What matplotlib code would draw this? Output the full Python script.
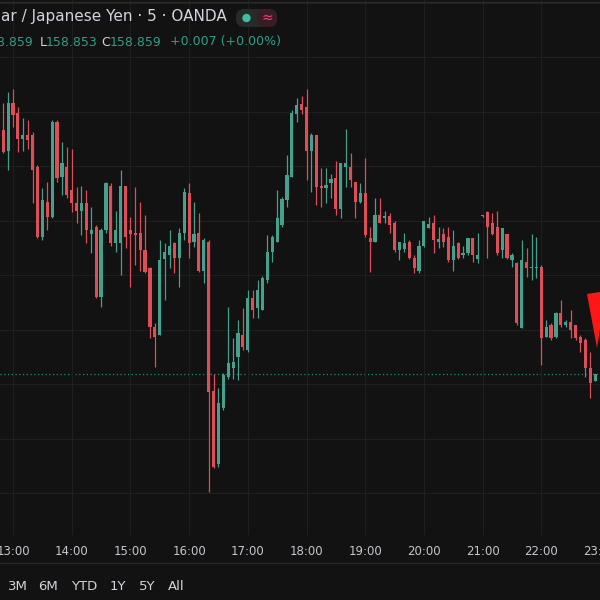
import numpy as np
import pandas as pd
import matplotlib
matplotlib.use('Agg')
import matplotlib.pyplot as plt
from matplotlib.patches import FancyBboxPatch, Polygon, Circle

# USD/JPY 5 min candles from OANDA, 12:50 .. 22:55
opens = [159.083, 159.064, 159.108, 159.099, 159.075, 159.078, 159.078, 159.049, 158.985, 159.017,
         159.003, 159.090, 159.040, 159.049, 159.028, 159.016, 159.009, 159.016, 158.988, 158.994,
         158.930, 158.991, 159.032, 158.979, 158.979, 159.032, 158.991, 158.989, 158.989, 158.973,
         158.956, 158.902, 158.895, 158.965, 158.968, 158.979, 158.966, 158.989, 159.025, 158.980,
         158.989, 158.954, 158.980, 158.844, 158.777, 158.828, 158.856, 158.865, 158.875, 158.895,
         158.881, 158.929, 158.920, 158.918, 158.945, 158.971, 158.980, 158.996, 159.019, 159.040,
         159.098, 159.107, 159.104, 159.064, 159.078, 159.032, 159.030, 159.034, 159.039, 159.011,
         159.049, 159.049, 159.035, 159.017, 159.025, 158.984, 158.980, 159.005, 159.002, 159.004,
         158.998, 158.973, 158.974, 158.980, 158.966, 158.954, 158.977, 158.993, 158.998, 158.980,
         158.988, 158.985, 158.964, 158.979, 158.968, 158.970, 158.984, 158.965, 159.004, 159.008,
         158.998, 158.994, 158.973, 158.988, 158.964, 158.961, 158.901, 158.962, 158.956, 158.956,
         158.957, 158.893, 158.904, 158.893, 158.915, 158.904, 158.907, 158.904, 158.893, 158.890,
         158.865, 158.853]
highs = [159.108, 159.118, 159.121, 159.104, 159.094, 159.092, 159.081, 159.051, 159.030, 159.035,
         159.092, 159.092, 159.072, 159.067, 159.066, 159.031, 159.032, 159.028, 159.012, 158.996,
         158.993, 159.035, 159.034, 159.009, 159.046, 159.032, 159.003, 159.031, 159.017, 159.005,
         158.957, 158.906, 158.982, 158.979, 158.991, 158.980, 158.993, 159.030, 159.034, 159.017,
         159.007, 158.984, 158.982, 158.859, 158.846, 158.860, 158.921, 158.892, 158.909, 158.920,
         158.936, 158.936, 158.945, 158.949, 158.987, 158.987, 159.028, 159.022, 159.060, 159.101,
         159.112, 159.114, 159.121, 159.080, 159.078, 159.048, 159.048, 159.043, 159.055, 159.053,
         159.084, 159.062, 159.035, 159.034, 159.057, 158.994, 159.021, 159.021, 159.009, 159.007,
         159.000, 158.980, 158.989, 158.982, 158.968, 158.982, 159.000, 159.003, 159.005, 158.994,
         158.993, 158.994, 158.991, 158.980, 158.977, 158.984, 158.984, 158.989, 159.005, 159.009,
         159.007, 159.009, 158.993, 158.988, 158.970, 158.962, 158.982, 158.975, 158.988, 158.985,
         158.959, 158.909, 158.906, 158.916, 158.927, 158.909, 158.918, 158.904, 158.895, 158.892,
         158.879, 158.859]
lows = [159.062, 159.046, 159.086, 159.063, 159.064, 159.066, 159.016, 158.984, 158.982, 158.991,
        159.002, 159.035, 159.023, 159.021, 159.008, 158.998, 158.987, 158.979, 158.970, 158.929,
        158.921, 158.989, 158.977, 158.971, 158.950, 158.975, 158.939, 158.959, 158.954, 158.952,
        158.892, 158.866, 158.895, 158.927, 158.956, 158.952, 158.939, 158.982, 158.966, 158.976,
        158.953, 158.943, 158.751, 158.773, 158.774, 158.826, 158.855, 158.855, 158.854, 158.881,
        158.879, 158.911, 158.911, 158.918, 158.943, 158.962, 158.980, 158.994, 159.012, 159.040,
        159.090, 159.098, 159.037, 159.026, 159.014, 159.012, 159.016, 159.021, 159.005, 159.002,
        159.031, 159.031, 159.002, 159.016, 158.985, 158.953, 158.980, 158.998, 158.998, 158.989,
        158.971, 158.964, 158.971, 158.965, 158.952, 158.952, 158.976, 158.993, 158.970, 158.975,
        158.976, 158.962, 158.954, 158.965, 158.966, 158.968, 158.962, 158.961, 159.003, 158.966,
        158.987, 158.968, 158.966, 158.965, 158.957, 158.904, 158.901, 158.948, 158.945, 158.947,
        158.867, 158.893, 158.890, 158.892, 158.902, 158.902, 158.892, 158.890, 158.879, 158.856,
        158.837, 158.853]
closes = [159.063, 159.108, 159.097, 159.075, 159.078, 159.074, 159.046, 158.985, 159.019, 159.003,
          159.090, 159.039, 159.053, 159.023, 159.016, 159.009, 159.016, 158.991, 158.991, 158.930,
          158.991, 159.034, 158.979, 158.991, 159.032, 158.985, 158.988, 158.987, 158.973, 158.953,
          158.902, 158.893, 158.964, 158.971, 158.977, 158.966, 158.989, 159.026, 158.979, 158.988,
          158.954, 158.982, 158.843, 158.774, 158.833, 158.858, 158.869, 158.870, 158.897, 158.884,
          158.929, 158.918, 158.936, 158.947, 158.971, 158.985, 159.002, 159.020, 159.042, 159.099,
          159.106, 159.101, 159.064, 159.078, 159.031, 159.030, 159.033, 159.038, 159.011, 159.053,
          159.053, 159.037, 159.017, 159.025, 158.987, 158.980, 159.005, 158.998, 159.004, 158.996,
          158.973, 158.980, 158.979, 158.966, 158.956, 158.977, 159.000, 158.997, 158.982, 158.983,
          158.980, 158.964, 158.977, 158.966, 158.970, 158.984, 158.968, 158.968, 159.004, 158.994,
          158.988, 158.970, 158.993, 158.966, 158.968, 158.906, 158.964, 158.956, 158.957, 158.957,
          158.892, 158.902, 158.892, 158.915, 158.904, 158.907, 158.900, 158.892, 158.888, 158.865,
          158.851, 158.859]

hour_ticks = [13, 14, 15, 16, 17, 18, 19, 20, 21, 22, 23]
hour_labels = ['13:00', '14:00', '15:00', '16:00', '17:00', '18:00', '19:00', '20:00', '21:00', '22:00', '23:00']
price_grid = [158.75, 158.80, 158.85, 158.90, 158.95, 159.00, 159.05, 159.10, 159.15, 159.20]
range_buttons = ['3M', '6M', 'YTD', '1Y', '5Y', 'All']
last_price = 158.859

BG = '#121212'
UP = '#46a08c'
DOWN = '#dd4f58'
GRID = '#1f1f1f'
TXT = '#d1d4dc'
GREEN_TXT = '#2f9e86'

o = np.array(opens)
h = np.array(highs)
l = np.array(lows)
c = np.array(closes)
times = pd.date_range('2024-06-26 12:50', periods=len(o), freq='5min')
t = times.hour + times.minute / 60.0
cols = np.where(c >= o, UP, DOWN)

fig = plt.figure(figsize=(6, 6), dpi=100, facecolor=BG)
ax = fig.add_axes([0, 65 / 600, 1, 535 / 600])
ax.set_facecolor(BG)

ax.vlines(t, l, h, colors=cols, lw=0.9, zorder=2)
body = np.maximum(np.abs(c - o), 0.0008)
ax.bar(t, body, bottom=np.minimum(o, c), width=0.054, color=cols, lw=0, zorder=3)
ax.axhline(last_price, color='#2a8a78', lw=0.9, ls=(0, (1, 2)), zorder=1)

ax.set_xlim(12.7785, 23.0)
ax.set_ylim(158.7115, 159.2023)
ax.set_xticks(hour_ticks)
ax.set_xticklabels(hour_labels)
ax.set_yticks(price_grid)
ax.tick_params(axis='x', length=0, pad=7, labelsize=8.5, labelcolor='#c4c6cc')
ax.tick_params(axis='y', length=0, labelleft=False)
ax.grid(color=GRID, lw=0.8, zorder=0)
for s in ax.spines.values():
    s.set_visible(False)

# overlay in pixel coordinates for legend / toolbar
ov = fig.add_axes([0, 0, 1, 1])
ov.set_xlim(0, 600)
ov.set_ylim(600, 0)
ov.axis('off')
ov.patch.set_alpha(0)

ov.plot([0, 600], [1.5, 1.5], color='#2a2a2a', lw=1)
ov.plot([0, 600], [563, 563], color='#262626', lw=1)

ov.text(1, 17, 'ar / Japanese Yen \u00b7 5 \u00b7 OANDA', color=TXT, fontsize=11,
        va='center', ha='left')
ov.add_patch(FancyBboxPatch((236, 9), 41, 18, boxstyle='round,pad=0,rounding_size=8',
                            fc='#262b2a', ec='none'))
ov.add_patch(FancyBboxPatch((257, 9), 20, 18, boxstyle='round,pad=0,rounding_size=8',
                            fc='#3a1c25', ec='none'))
ov.add_patch(Circle((246.5, 18), 4.2, fc='#3dbf9f', ec='none'))
ov.text(267, 18, '\u2248', color='#e8457a', fontsize=10, ha='center', va='center')

ov.text(33, 42, '158.859', color=GREEN_TXT, fontsize=9, ha='right', va='center')
ov.text(40, 42, 'L', color=TXT, fontsize=9, ha='left', va='center')
ov.text(46, 42, '158.853', color=GREEN_TXT, fontsize=9, ha='left', va='center')
ov.text(101, 42, 'C', color=TXT, fontsize=9, ha='left', va='center')
ov.text(110, 42, '158.859', color=GREEN_TXT, fontsize=9, ha='left', va='center')
ov.text(170, 42, '+0.007 (+0.00%)', color=GREEN_TXT, fontsize=9, ha='left', va='center')

btn_x = [8, 38, 71, 110, 139, 168]
for x, lab in zip(btn_x, range_buttons):
    ov.text(x, 586, lab, color=TXT, fontsize=9.5, ha='left', va='center')

ov.add_patch(Polygon([(587, 294), (606, 291), (597, 348)], closed=True, fc='#ff1616', ec='none'))

fig.savefig('out.png', dpi=100, facecolor=BG)
